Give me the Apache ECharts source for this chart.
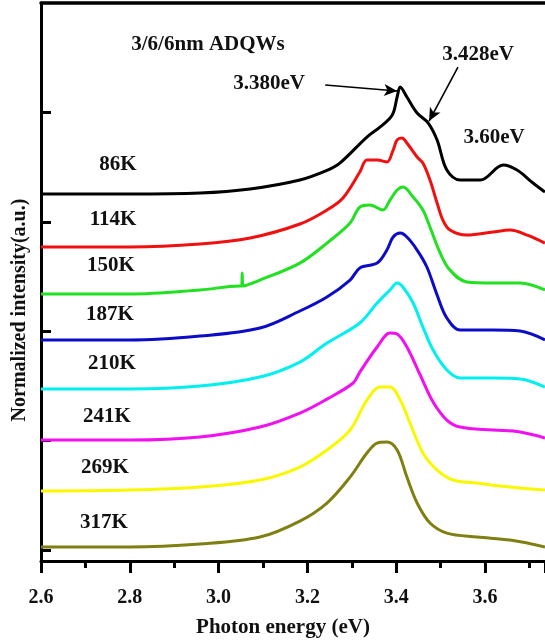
<!DOCTYPE html>
<html>
<head>
<meta charset="utf-8">
<script src="https://cdn.jsdelivr.net/npm/echarts@6/dist/echarts.min.js"></script>
<style>
  html, body { margin: 0; padding: 0; background: #fff; }
  #plCanvas { width: 545px; height: 643px; }
</style>
</head>
<body>
<div id="plCanvas"></div>
<script>
// PL spectra, [photon energy (eV), normalized intensity (a.u.)], stacked by temperature
var k86 = [[2.600,3.254],[2.800,3.254],[2.958,3.263],[3.071,3.300],[3.183,3.382],[3.244,3.470],[3.273,3.537],[3.334,3.775],[3.364,3.867],[3.391,3.976],[3.402,4.141],[3.409,4.232],[3.424,4.141],[3.447,3.995],[3.472,3.903],[3.492,3.748],[3.514,3.473],[3.544,3.382],[3.589,3.382],[3.641,3.519],[3.672,3.473],[3.708,3.355],[3.735,3.272]];
var k114 = [[2.600,2.770],[2.800,2.770],[2.958,2.797],[3.071,2.852],[3.183,2.980],[3.244,3.108],[3.280,3.218],[3.318,3.455],[3.334,3.565],[3.357,3.565],[3.379,3.547],[3.393,3.656],[3.402,3.748],[3.413,3.766],[3.424,3.720],[3.447,3.592],[3.460,3.537],[3.476,3.382],[3.492,3.172],[3.505,3.016],[3.521,2.925],[3.559,2.879],[3.618,2.907],[3.656,2.925],[3.695,2.879],[3.735,2.806]];
var k150 = [[2.600,2.340],[2.800,2.340],[2.958,2.377],[3.048,2.413],[3.052,2.413],[3.053,2.532],[3.055,2.413],[3.093,2.468],[3.183,2.623],[3.244,2.806],[3.296,2.989],[3.318,3.135],[3.341,3.154],[3.370,3.108],[3.386,3.199],[3.402,3.291],[3.415,3.318],[3.438,3.227],[3.460,3.108],[3.476,2.952],[3.499,2.715],[3.521,2.559],[3.559,2.450],[3.618,2.441],[3.679,2.441],[3.735,2.377]];
var k187 = [[2.600,1.920],[2.800,1.920],[2.958,1.956],[3.093,2.029],[3.183,2.185],[3.244,2.313],[3.296,2.468],[3.318,2.578],[3.357,2.623],[3.379,2.742],[3.393,2.861],[3.409,2.898],[3.424,2.861],[3.447,2.742],[3.469,2.587],[3.492,2.331],[3.514,2.121],[3.544,2.011],[3.618,2.011],[3.679,2.002],[3.735,1.920]];
var k210 = [[2.600,1.472],[2.800,1.472],[2.958,1.499],[3.093,1.581],[3.183,1.718],[3.244,1.892],[3.318,2.075],[3.357,2.258],[3.386,2.377],[3.402,2.441],[3.415,2.404],[3.438,2.258],[3.460,2.038],[3.483,1.828],[3.514,1.645],[3.544,1.572],[3.618,1.572],[3.679,1.563],[3.735,1.490]];
var k241 = [[2.600,1.005],[2.800,1.005],[2.958,1.033],[3.093,1.124],[3.183,1.252],[3.244,1.380],[3.303,1.527],[3.318,1.627],[3.357,1.856],[3.386,1.984],[3.402,1.974],[3.424,1.856],[3.454,1.600],[3.483,1.353],[3.514,1.188],[3.544,1.124],[3.618,1.097],[3.679,1.079],[3.735,1.024]];
var k269 = [[2.600,0.539],[2.800,0.548],[2.958,0.576],[3.093,0.640],[3.183,0.759],[3.244,0.914],[3.296,1.097],[3.334,1.371],[3.364,1.490],[3.386,1.490],[3.409,1.371],[3.431,1.161],[3.460,0.887],[3.492,0.731],[3.528,0.640],[3.582,0.612],[3.656,0.576],[3.735,0.548]];
var k317 = [[2.600,0.027],[2.800,0.027],[2.958,0.055],[3.093,0.119],[3.183,0.265],[3.244,0.430],[3.296,0.667],[3.334,0.887],[3.357,0.978],[3.379,0.987],[3.402,0.914],[3.424,0.667],[3.447,0.430],[3.476,0.247],[3.514,0.155],[3.582,0.119],[3.656,0.091],[3.735,0.027]];

var curves = [k86, k114, k150, k187, k210, k241, k269, k317];
var tempNames = ['86K', '114K', '150K', '187K', '210K', '241K', '269K', '317K'];
var colors = ['#000000', '#f01010', '#22e022', '#0c0cc8', '#00f0f0', '#f010f0', '#f8f800', '#7f7f12'];
var majorTicks = [2.6, 2.8, 3.0, 3.2, 3.4, 3.6];
var yTicks = [0, 1, 2, 3, 4];
// arrows pointing to the peaks: [from, to]
var arrows = [
  [[3.240, 4.250], [3.402, 4.196]],
  [[3.539, 4.415], [3.474, 3.921]]
];

var serif = '"Liberation Serif", "Times New Roman", serif';
var chart = echarts.init(document.getElementById('plCanvas'));

var series = curves.map(function (d, i) {
  var s = {
    name: tempNames[i],
    type: 'line',
    data: d,
    showSymbol: false,
    smooth: 0.35,
    lineStyle: { color: colors[i], width: 3 },
    silent: true
  };
  if (i === 0) {
    s.markLine = {
      silent: true,
      symbol: ['none', 'arrow'],
      symbolSize: [9, 13],
      label: { show: false },
      lineStyle: { color: '#000', width: 1.6, type: 'solid' },
      data: arrows.map(function (a) {
        return [{ coord: a[0] }, { coord: a[1] }];
      })
    };
  }
  return s;
});

// text positions (px)
var labelPos = [[118, 165], [113, 220], [111, 266], [110, 315], [112, 364], [107, 417], [105, 468], [104, 523]];
function txt(x, y, t, size, rot) {
  return {
    type: 'text', x: x, y: y, rotation: rot || 0,
    style: { text: t, font: 'bold ' + size + 'px ' + serif, fill: '#111', align: 'center', verticalAlign: 'middle' }
  };
}
var graphics = tempNames.map(function (t, i) {
  return txt(labelPos[i][0], labelPos[i][1], t, 21);
});
graphics.push(
  txt(208, 45, '3/6/6nm ADQWs', 21),
  txt(269, 84, '3.380eV', 21),
  txt(478, 55, '3.428eV', 21),
  txt(494, 138, '3.60eV', 21),
  txt(283, 628, 'Photon energy (eV)', 21),
  txt(20, 310, 'Normalized intensity(a.u.)', 20, Math.PI / 2)
);

var option = {
  animation: false,
  backgroundColor: '#fff',
  grid: { left: 41, right: 0, top: 3, bottom: 82 },
  xAxis: [
    {
      type: 'value', position: 'bottom', min: 2.6, max: 3.735,
      axisLine: { show: true, onZero: false, lineStyle: { color: '#000', width: 3 } },
      axisTick: { show: false },
      axisLabel: {
        customValues: majorTicks, margin: 27,
        fontFamily: serif, fontWeight: 'bold', fontSize: 20, color: '#111',
        formatter: function (v) { return v.toFixed(1); }
      },
      splitLine: { show: false }
    },
    {
      type: 'value', position: 'bottom', min: 2.6, max: 3.735, interval: 0.2,
      axisLine: { show: false, onZero: false },
      axisTick: { show: true, length: 12, lineStyle: { color: '#000', width: 3 } },
      minorTick: { show: true, splitNumber: 2, length: 7, lineStyle: { color: '#000', width: 3 } },
      axisLabel: { show: false },
      splitLine: { show: false }
    },
    {
      type: 'value', position: 'top', min: 2.6, max: 3.735,
      axisLine: { show: true, onZero: false, lineStyle: { color: '#000', width: 3.5 } },
      axisTick: { show: false },
      axisLabel: { show: false },
      splitLine: { show: false }
    }
  ],
  yAxis: {
    type: 'value', min: -0.1, max: 5.0,
    axisLine: { show: true, onZero: false, lineStyle: { color: '#000', width: 3 } },
    axisTick: { show: true, inside: true, customValues: yTicks, length: 10, lineStyle: { color: '#000', width: 3 } },
    axisLabel: { show: false },
    splitLine: { show: false }
  },
  graphic: graphics,
  series: series
};
chart.setOption(option);
</script>
</body>
</html>
